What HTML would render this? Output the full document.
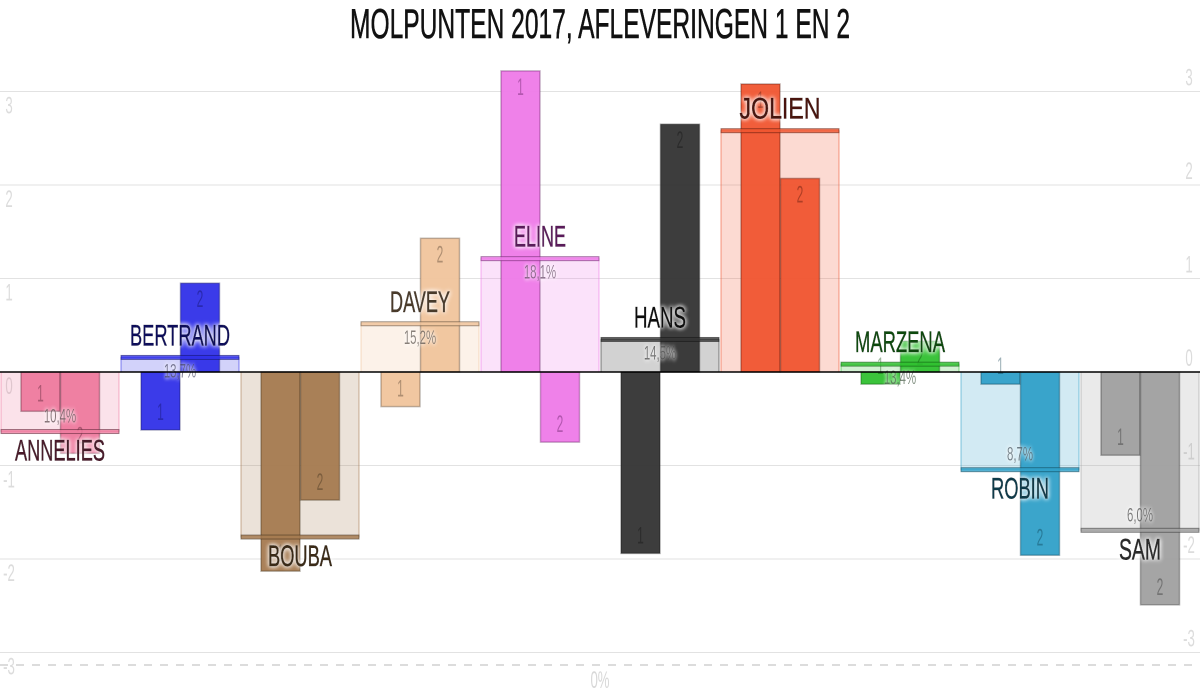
<!DOCTYPE html>
<html><head><meta charset="utf-8"><style>
html,body{margin:0;padding:0;background:#fff;width:1200px;height:700px;overflow:hidden}
svg{display:block;font-family:"Liberation Sans Narrow","Liberation Sans",sans-serif}
</style></head><body>
<svg id="chart" width="1200" height="700" viewBox="0 0 1200 700" xmlns="http://www.w3.org/2000/svg">
<defs><filter id="glow" x="-20%" y="-40%" width="140%" height="180%"><feGaussianBlur in="SourceAlpha" stdDeviation="2.5" result="b"/><feFlood flood-color="#fff"/><feComposite in2="b" operator="in" result="w"/><feMerge><feMergeNode in="w"/><feMergeNode in="w"/><feMergeNode in="SourceGraphic"/></feMerge></filter></defs>
<text x="600" y="38" text-anchor="middle" font-size="42" textLength="500" lengthAdjust="spacingAndGlyphs" fill="#111" stroke="#111" stroke-width="0.6">MOLPUNTEN 2017, AFLEVERINGEN 1 EN 2</text>
<g id="grid"></g><g id="cols"></g>
</svg>
<script>
const names=["ANNELIES","BERTRAND","BOUBA","DAVEY","ELINE","HANS","JOLIEN","MARZENA","ROBIN","SAM"];
const ep1=[-0.42,-0.62,-2.13,-0.37,3.22,-1.94,3.08,-0.13,-0.13,-0.89];
const ep2=[-0.87,0.95,-1.37,1.43,-0.75,2.65,2.07,0.33,-1.96,-2.49];
const pct=[10.4,13.7,5.7,15.2,18.1,14.5,23.8,13.4,8.7,6.0];
const pctLabels=["10,4%","13,7%","","15,2%","18,1%","14,5%","","13,4%","8,7%","6,0%"];
const scoreTicks=[-3,-2,-1,0,1,2,3];
const colors=["#ee7a9e","#3030e8","#a57a50","#f0c49c","#ee7ae8","#333333","#f05530","#30c030","#30a0c8","#a0a0a0"];
const darks=["#4a1a2a","#10105a","#3a2a18","#4a3a2a","#5a1a5a","#111111","#4a1208","#0a4a0a","#0a3a4a","#2a2a2a"];
const nameW=[90,100,64,60,52,52,81,90,58,42];
const NS="http://www.w3.org/2000/svg";
const y0=372,unit=93.5;
const ys=v=>y0-v*unit;
const yp=p=>665-p*22.45;
const colW=120;
function mk(tag,attrs,parent){const e=document.createElementNS(NS,tag);for(const k in attrs)e.setAttribute(k,attrs[k]);parent.appendChild(e);return e;}
function narrow(x,y,size,fill,parent,sx){return mk('text',{x:0,y:0,transform:'translate('+x+','+y+') scale('+(sx||0.55)+',1)','font-size':size,fill:fill,'text-anchor':'middle'},parent);}
const grid=document.getElementById('grid'),cols=document.getElementById('cols');
scoreTicks.forEach(t=>{
  if(t!==0){const l=mk('line',{x1:0,x2:1200,y1:ys(t),y2:ys(t),stroke:'#e2e2e2','stroke-width':1},grid);
  
  }
  const a=narrow(9,ys(t)+22,24,'#dcdcdc',grid);a.textContent=t;
  
  
  const b=narrow(1189,ys(t)-6,24,'#dcdcdc',grid);b.textContent=t;
  
  
});
const d=mk('line',{x1:0,x2:1200,y1:yp(0),y2:yp(0),stroke:'#d0d0d0','stroke-dasharray':'8,8','stroke-width':1.5},grid);


const zp=narrow(600,688,24,'#d8d8d8',grid);zp.textContent='0%';


names.forEach((n,i)=>{
  const g=mk('g',{},cols);
  
  
  const x=i*colW,c=colors[i],py=yp(pct[i]);
  const bg=mk('rect',{x:x+1,y:Math.min(py,y0),width:118,height:Math.abs(py-y0),fill:c,'fill-opacity':0.22,stroke:c,'stroke-opacity':0.6},g);
  
  
  [ep1[i],ep2[i]].forEach((v,k)=>{
    const by=ys(v);
    const r=mk('rect',{x:x+21+k*39.5,y:Math.min(by,y0),width:39,height:Math.abs(by-y0),fill:c,'fill-opacity':0.95,stroke:darks[i],'stroke-opacity':0.35,'stroke-width':1.5},g);
    
    
    const t=narrow(x+40.5+k*39.5,v>=0?by+24:by-10,24,darks[i],g,0.5);t.setAttribute('fill-opacity',0.4);t.textContent=k+1;
    
    
  });
  const ln=mk('rect',{x:x+1,y:py-2,width:118,height:4,fill:c,'fill-opacity':0.8,stroke:darks[i],'stroke-opacity':0.5},g);
  
  
  const above=py<y0;
  if(pctLabels[i]){const pl=narrow(x+60,above?py+20:py-9,19,c==='#333333'?'#222':darks[i],g,0.6);pl.setAttribute('fill-opacity',0.75);pl.setAttribute('filter','url(#glow)');pl.textContent=pctLabels[i];
  
  }
  const nm=mk('text',{x:x+60,y:above?py-12:py+29,'font-size':30,fill:darks[i],stroke:darks[i],'stroke-width':0.6,'text-anchor':'middle',textLength:nameW[i],lengthAdjust:'spacingAndGlyphs',filter:'url(#glow)'},g);nm.textContent=n;
  
  
});
const base=mk('line',{x1:0,x2:1200,y1:y0,y2:y0,stroke:'#000','stroke-width':1.5},cols);


</script>
</body></html>
